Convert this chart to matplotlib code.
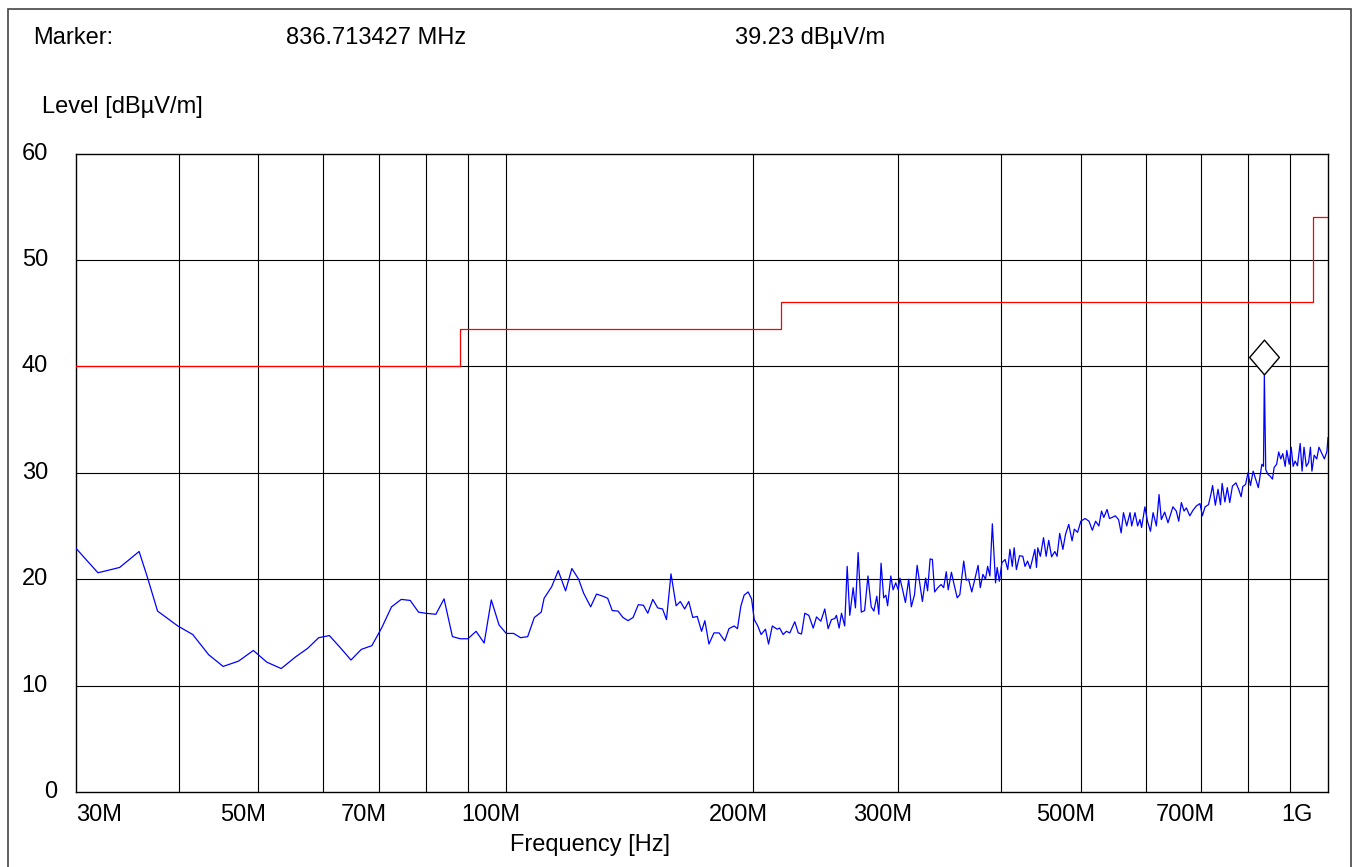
import matplotlib
matplotlib.use("Agg")
import matplotlib.pyplot as plt
from matplotlib.patches import Rectangle
from matplotlib.transforms import offset_copy, blended_transform_factory
from matplotlib.markers import MarkerStyle

plt.rcParams["font.family"] = ["Liberation Sans", "DejaVu Sans"]

# measured trace, frequency in MHz / level in dBuV/m
freq_mhz = [
	30.0, 31.9, 33.9, 35.8, 36.6, 37.7, 39.9, 41.6, 43.5, 45.3, 47.3, 49.3, 51.2, 53.3, 55.5,
	57.4, 59.2, 61.0, 63.0, 64.8, 66.7, 68.7, 70.6, 72.6, 74.6, 76.5, 78.3, 79.8, 82.2, 84.1,
	86.1, 88.0, 89.9, 92.0, 94.1, 96.0, 98.1, 100.1, 102.2, 104.2, 106.3, 108.3, 110.4,
	111.3, 113.7, 115.8, 118.2, 120.3, 122.6, 124.3, 126.8, 128.9, 131.2, 133.0, 134.7, 136.9,
	138.8, 140.8, 142.8, 144.9, 147.0, 148.8, 150.9, 153.0, 155.1, 156.8, 158.8, 161.1, 163.0,
	165.0, 166.9, 168.8, 170.9, 173.0, 174.6, 176.6, 179.1, 181.7, 184.6, 186.8, 189.5, 191.3,
	193.1, 194.9, 197.1, 199.0, 200.5, 202.5, 204.4, 206.9, 208.7, 210.9, 213.7, 215.3, 217.4,
	219.4, 221.5, 224.6, 226.8, 228.9, 231.0, 233.6, 236.5, 238.7, 241.6, 244.3, 246.6, 248.9,
	251.2, 252.4, 254.3, 256.0, 258.3, 260.1, 262.0, 264.5, 266.2, 268.2, 270.6, 273.1, 275.7,
	278.2, 280.3, 282.6, 284.2, 286.0, 288.1, 289.9, 291.3, 293.9, 295.8, 298.0, 300.1, 301.5,
	304.0, 306.2, 309.0, 311.3, 314.1, 316.4, 319.0, 321.1, 324.0, 325.8, 328.1, 330.2, 332.3,
	335.3, 338.4, 340.8, 343.3, 345.2, 348.3, 350.9, 354.0, 356.6, 360.5, 363.1, 365.4, 368.7,
	371.0, 375.3, 377.6, 380.4, 383.1, 385.5, 387.9, 390.6, 394.1, 395.9, 398.3, 401.2,
	404.8, 407.8, 410.3, 413.0, 415.2, 417.8, 421.5, 425.4, 428.0, 431.1, 434.2, 437.0, 440.0,
	442.0, 443.6, 446.8, 450.8, 454.1, 457.4, 461.1, 465.3, 468.2, 471.7, 475.9, 479.4, 483.8,
	488.3, 491.4, 495.9, 500.5, 506.5, 512.0, 516.8, 521.6, 526.4, 530.3, 533.7, 538.6, 542.2,
	546.1, 551.2, 556.2, 560.3, 563.9, 569.1, 574.4, 577.0, 582.4, 586.7, 590.6, 593.3, 598.8,
	603.1, 608.2, 612.7, 618.4, 623.0, 627.0, 632.9, 638.8, 643.6, 647.7, 653.8, 658.3, 663.2,
	668.2, 672.6, 679.0, 685.5, 692.0, 698.7, 703.3, 708.8, 715.5, 720.3, 723.8, 729.4, 734.9,
	740.0, 743.4, 749.2, 754.2, 759.4, 765.2, 772.7, 778.6, 784.0, 787.7, 793.9, 799.2, 804.8,
	810.9, 816.6, 822.7, 826.8, 830.9, 834.7, 836.713427, 840.0, 845.0, 850.0, 856.0, 860.0,
	866.0, 871.0, 876.0, 881.0, 887.0, 891.0, 897.0, 902.0, 907.0, 912.0, 918.0, 925.0, 930.0,
	935.0, 941.0, 947.0, 952.0, 956.0, 962.0, 969.0, 975.0, 981.0, 990.0, 997.0, 1000.0,
]
level_db = [
	22.9, 20.6, 21.1, 22.6, 20.3, 17.0, 15.6, 14.8, 12.9, 11.8, 12.3, 13.3, 12.2, 11.6, 12.7,
	13.5, 14.5, 14.7, 13.5, 12.4, 13.4, 13.75, 15.4, 17.4, 18.1, 18.0, 16.9, 16.8, 16.7, 18.15,
	14.6, 14.4, 14.4, 15.1, 14.0, 18.05, 15.7, 14.9, 14.9, 14.5, 14.6, 16.4, 16.9,
	18.2, 19.3, 20.8, 18.9, 21.0, 20.0, 18.7, 17.4, 18.6, 18.4, 18.2, 17.05, 17.0,
	16.4, 16.1, 16.4, 17.6, 17.55, 16.8, 18.1, 17.3, 17.2, 16.2, 20.5, 17.5, 17.9,
	17.2, 17.9, 16.4, 16.5, 15.1, 16.1, 13.9, 14.95, 14.95, 14.2, 15.35, 15.6, 15.35,
	17.45, 18.5, 18.8, 18.15, 16.2, 15.6, 14.8, 15.3, 13.9, 15.6, 15.3, 15.4, 14.8,
	15.1, 14.95, 16.0, 14.95, 14.85, 16.8, 16.6, 15.4, 16.45, 16.05, 17.2, 15.35, 16.2,
	16.3, 16.6, 15.4, 16.8, 15.6, 21.2, 16.6, 19.2, 17.3, 22.5, 16.9, 17.05, 20.3,
	17.4, 17.0, 18.4, 16.7, 21.5, 18.25, 18.5, 17.5, 20.3, 19.0, 19.65, 19.0, 20.1,
	18.9, 17.8, 20.0, 17.4, 18.55, 21.3, 19.4, 17.9, 20.1, 18.9, 21.9, 21.85, 18.8,
	19.2, 19.5, 19.2, 20.7, 19.0, 20.65, 19.5, 18.25, 18.55, 21.7, 19.9, 20.0, 18.8,
	19.65, 21.3, 19.2, 20.45, 20.0, 21.2, 20.3, 25.2, 19.65, 21.1, 19.8, 21.55,
	21.85, 20.9, 22.8, 21.2, 22.95, 20.9, 22.2, 22.15, 21.2, 21.7, 21.0, 21.85, 22.8,
	21.1, 22.95, 22.15, 23.9, 22.15, 23.65, 22.1, 22.6, 22.15, 24.3, 22.8, 24.2, 25.15,
	23.6, 24.7, 24.4, 25.45, 25.7, 25.45, 24.6, 25.45, 25.0, 26.4, 25.8, 26.55, 25.7,
	25.8, 25.95, 25.6, 24.35, 26.25, 25.0, 26.25, 25.0, 26.25, 25.0, 25.6, 24.85, 26.8,
	25.45, 24.5, 26.25, 25.0, 27.95, 25.6, 26.3, 25.3, 26.1, 26.8, 26.4, 25.45, 27.2,
	26.4, 26.7, 25.95, 26.5, 26.9, 27.1, 25.95, 26.8, 27.0, 27.95, 28.8, 26.95, 28.45,
	27.0, 29.0, 27.25, 28.6, 27.2, 28.75, 29.05, 28.45, 27.75, 28.7, 28.9, 30.0, 28.8,
	30.15, 29.4, 28.6, 29.7, 30.8, 30.6, 39.23, 30.3, 29.85, 29.7, 29.4, 30.5,
	30.8, 31.95, 31.3, 31.8, 30.6, 32.1, 30.8, 32.4, 30.6, 31.1, 30.65, 32.75, 30.15,
	32.4, 30.6, 30.95, 32.4, 30.15, 31.65, 31.3, 32.4, 31.95, 31.3, 32.0, 33.3,
]

# limit line (step starts)
limit_freq_mhz = [30.0, 88.0, 216.0, 960.0, 1000.0]
limit_db = [40.0, 43.5, 46.0, 54.0, 54.0]

marker_freq_mhz = 836.713427
marker_level = 39.23

grid_freqs = [40, 50, 60, 70, 80, 90, 100, 200, 300, 400, 500, 600, 700, 800, 900]
tick_freqs = [30, 50, 70, 100, 200, 300, 500, 700, 1000]
tick_labels = ["30M", "50M", "70M", "100M", "200M", "300M", "500M", "700M", "1G"]
level_ticks = [0, 10, 20, 30, 40, 50, 60]

W, H = 1353, 867
fig = plt.figure(figsize=(W / 100, H / 100), dpi=100)
ax = fig.add_axes([76 / W, 1 - 792 / H, 1252 / W, 638.5 / H])

ax.set_xscale("log")
ax.set_xlim(30, 1000)
ax.set_ylim(0, 60)
ax.set_xticks(grid_freqs)
ax.set_xticks([], minor=True)
ax.set_yticks(level_ticks[1:-1])
ax.tick_params(length=0, labelbottom=False, labelleft=False)
ax.grid(True, color="black", lw=0.8)
for s in ax.spines.values():
	s.set_color("black")
	s.set_linewidth(1.0)

ax.plot(limit_freq_mhz, limit_db, drawstyle="steps-post", color="#ff0000", lw=0.9, zorder=3)
ax.plot(freq_mhz, level_db, color="#0000ff", lw=0.9, zorder=4)

# diamond sitting on top of the marker point
diamond = MarkerStyle([(0, -17.5), (15, 0), (0, 17.5), (-15, 0), (0, -17.5)])
lift = offset_copy(ax.transData, fig, x=0, y=17.5, units="dots")
ax.plot([marker_freq_mhz], [marker_level], marker=diamond, ms=25, mfc="white",
	mec="black", mew=1.0, ls="none", transform=lift, zorder=5, clip_on=False)

fs = 17
xtr = ax.get_xaxis_transform()
for f, lab in zip(tick_freqs, tick_labels):
	if f == tick_freqs[0]:
		ax.text(f, -0.036, lab, ha="left", va="center", fontsize=fs, transform=xtr)
	elif f == tick_freqs[-1]:
		ax.text(f, -0.036, lab, ha="right", va="center", fontsize=fs,
			transform=offset_copy(xtr, fig, x=-15, units="dots"))
	else:
		ax.text(f, -0.036, lab, ha="center", va="center", fontsize=fs,
			transform=offset_copy(xtr, fig, x=-15, units="dots"))

ytr = ax.get_yaxis_transform()
for v in level_ticks:
	xpos = -0.0152 if v < 10 else -0.0224
	ax.text(xpos, v, str(v), ha="right", va="center", fontsize=fs, transform=ytr)

fig.text(33 / W, 1 - 38 / H, "Marker:", fontsize=fs, va="center")
fig.text(286 / W, 1 - 38 / H, f"{marker_freq_mhz:.6f} MHz", fontsize=fs, va="center")
fig.text(735 / W, 1 - 38 / H, f"{marker_level:.2f} dBµV/m", fontsize=fs, va="center")
fig.text(42 / W, 1 - 107 / H, "Level [dBµV/m]", fontsize=fs, va="center")
fig.text(590 / W, 1 - 845 / H, "Frequency [Hz]", fontsize=fs, va="center", ha="center")

fig.patches.append(Rectangle((7.5 / W, -0.02), 1343.5 / W, 1.02 - 9.5 / H,
	transform=fig.transFigure, fill=False, edgecolor="#444444", lw=1.2))

fig.savefig("out.png", dpi=100)
